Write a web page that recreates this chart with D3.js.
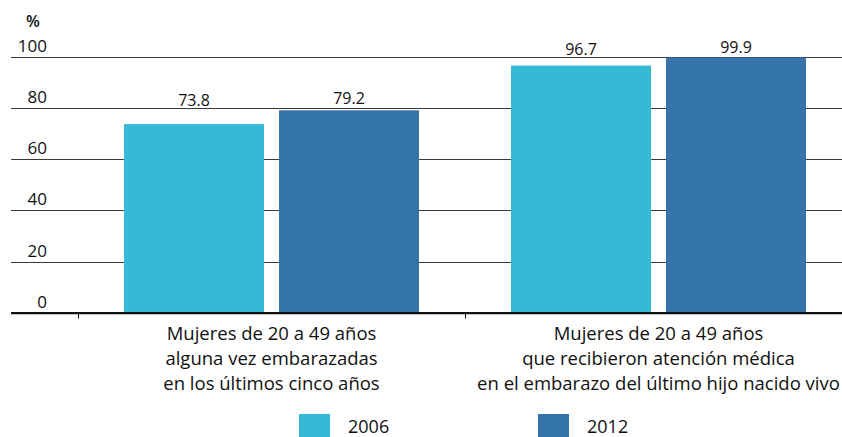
<!DOCTYPE html>
<html>
<head>
<meta charset="utf-8">
<script src="https://cdn.jsdelivr.net/npm/d3@7"></script>
<style>
  html, body { margin: 0; padding: 0; background: #fff; }
  svg { display: block; font-family: "Open Sans", "Noto Sans", sans-serif; }
</style>
</head>
<body>
<svg id="chart" width="842" height="437"></svg>
<script>
// Categories (each label is split over three lines)
const categories = [
  ["Mujeres de 20 a 49 años", "alguna vez embarazadas", "en los últimos cinco años"],
  ["Mujeres de 20 a 49 años", "que recibieron atención médica", "en el embarazo del último hijo nacido vivo"]
];
const years = ["2006", "2012"];
const values2006 = [73.8, 96.7];
const values2012 = [79.2, 99.9];
const yTicks = [0, 20, 40, 60, 80, 100];
const colors = { "2006": "#34b9d7", "2012": "#3474a9" };

const svg = d3.select("#chart");
const ink = "#111";

const left = 11, bandStart = 78, bandEnd = 852;
const y = d3.scaleLinear().domain([0, 100]).range([312.6, 57.2]);
const x0 = d3.scaleBand().domain(d3.range(categories.length)).range([bandStart, bandEnd]);
const x1 = d3.scaleBand().domain(years).range([0, x0.bandwidth()])
  .paddingInner(15 / 155).paddingOuter(46 / 155);

const rows = categories.map((c, i) => ({
  i, cat: c,
  vals: [{ year: "2006", v: values2006[i] }, { year: "2012", v: values2012[i] }]
}));

// Horizontal gridlines with their labels
const grid = svg.append("g");
grid.selectAll("line").data(yTicks.filter(t => t > 0)).join("line")
  .attr("x1", left).attr("x2", 842)
  .attr("y1", d => Math.round(y(d)) + 0.5).attr("y2", d => Math.round(y(d)) + 0.5)
  .attr("stroke", "#3a3a3a").attr("stroke-width", 1);
grid.selectAll("text").data(yTicks).join("text")
  .attr("x", 47).attr("y", d => y(d) - 5)
  .attr("text-anchor", "end")
  .attr("font-size", 17).attr("fill", ink)
  .text(d => d);

svg.append("text").attr("x", 26).attr("y", 27)
  .attr("font-size", 16).attr("font-weight", 600).attr("fill", ink).text("%");

// Bars
const groups = svg.append("g").selectAll("g").data(rows).join("g")
  .attr("transform", d => `translate(${x0(d.i)},0)`);
groups.selectAll("rect").data(d => d.vals).join("rect")
  .attr("x", d => x1(d.year)).attr("width", x1.bandwidth())
  .attr("y", d => y(d.v)).attr("height", d => y(0) - y(d.v))
  .attr("fill", d => colors[d.year]);

// Value labels: sit above the bar, nudged clear of gridlines
const gridYs = yTicks.filter(t => t > 0).map(t => y(t));
function labelBaseline(v) {
  const top = y(v);
  const touching = gridYs.find(g => top - g >= -1 && top - g < 3);
  if (touching !== undefined) return touching - 4;
  let b = top - 10;
  const crossing = gridYs.find(g => g > b - 13 && g < b + 2);
  if (crossing !== undefined) b = crossing - 2;
  return b;
}
groups.selectAll("text.val").data(d => d.vals).join("text")
  .attr("class", "val")
  .attr("x", d => x1(d.year) + x1.bandwidth() / 2)
  .attr("y", d => labelBaseline(d.v))
  .attr("text-anchor", "middle")
  .attr("font-size", 16).attr("fill", ink)
  .text(d => d.v.toFixed(1));

// Baseline axis with category ticks
svg.append("line").attr("x1", left).attr("x2", 842)
  .attr("y1", y(0) + 0.5).attr("y2", y(0) + 0.5)
  .attr("stroke", "#111").attr("stroke-width", 2.2);
svg.append("g").selectAll("line").data(d3.range(categories.length)).join("line")
  .attr("x1", d => x0(d) + 0.5).attr("x2", d => x0(d) + 0.5)
  .attr("y1", y(0)).attr("y2", y(0) + 6)
  .attr("stroke", "#111").attr("stroke-width", 1);

// Category labels
const catText = svg.append("g").selectAll("text").data(rows).join("text")
  .attr("text-anchor", "middle").attr("font-size", 18.5).attr("fill", ink);
catText.selectAll("tspan").data(d => d.cat.map(line => ({ line, i: d.i }))).join("tspan")
  .attr("x", d => x0(d.i) + x0.bandwidth() / 2)
  .attr("y", (d, j) => 340 + j * 25)
  .text(d => d.line);

// Legend
const legend = svg.append("g").selectAll("g").data(years).join("g")
  .attr("transform", (d, i) => `translate(${[299, 538][i]},414)`);
legend.append("rect").attr("width", 31).attr("height", 24).attr("fill", d => colors[d]);
legend.append("text").attr("x", 49).attr("y", 18.5)
  .attr("font-size", 18).attr("fill", ink).text(d => d);
</script>
</body>
</html>
